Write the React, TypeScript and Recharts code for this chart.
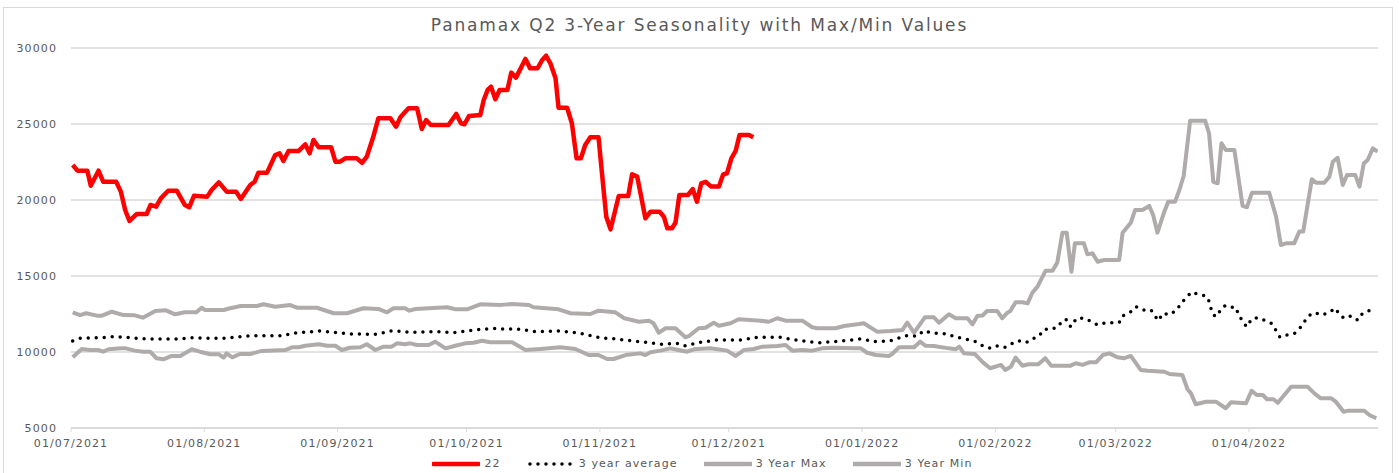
import { LineChart, Line, XAxis, YAxis, CartesianGrid, Legend } from "recharts"

// x = days since 01/07/2021, y = USD/day
const monthTicks = [0, 31, 62, 92, 123, 153, 184, 215, 243, 274]
const monthLabels = [
  "01/07/2021", "01/08/2021", "01/09/2021", "01/10/2021", "01/11/2021",
  "01/12/2021", "01/01/2022", "01/02/2022", "01/03/2022", "01/04/2022",
]
const yTicks = [5000, 10000, 15000, 20000, 25000, 30000]

const series22: [number, number][] = [
  [0.4, 22300], [1.5, 21930], [3.8, 21930], [4.6, 20940], [6.4, 21930], [7.5, 21200], [10.5, 21200],
  [11.6, 20550], [12.6, 19340], [13.6, 18620], [15.3, 19080], [17.6, 19080], [18.5, 19670], [19.8, 19560],
  [20.9, 20110], [22.6, 20610], [24.6, 20610], [26.5, 19670], [27.5, 19520], [28.6, 20280], [31.7, 20220],
  [32.7, 20660], [34.4, 21160], [36.2, 20550], [38.4, 20550], [39.5, 20070], [41.7, 20990], [42.7, 21200],
  [43.6, 21800], [45.6, 21800], [47.5, 22960], [48.5, 23070], [49.4, 22570], [50.6, 23220], [52.9, 23220],
  [54.5, 23660], [55.5, 23070], [56.4, 23950], [57.6, 23470], [60.5, 23470], [61.5, 22520], [62.6, 22520],
  [63.8, 22740], [66.5, 22740], [67.7, 22450], [68.8, 22850], [70.2, 24060], [71.5, 25380], [74.3, 25380],
  [75.6, 24820], [76.6, 25440], [78.5, 26030], [80.5, 26030], [81.6, 24670], [82.6, 25260], [83.7, 24930],
  [87.8, 24930], [89.6, 25660], [90.7, 25050], [91.5, 24980], [92.6, 25530], [95.2, 25590], [96.0, 26580],
  [96.9, 27240], [97.7, 27450], [98.7, 26630], [99.7, 27240], [101.5, 27240], [102.4, 28380], [103.5, 28050],
  [105.7, 29280], [106.8, 28660], [108.5, 28660], [109.6, 29210], [110.5, 29490], [111.5, 28990], [112.7, 28010],
  [113.4, 26070], [115.4, 26070], [116.5, 25050], [117.6, 22740], [118.6, 22740], [119.6, 23620], [120.8, 24130],
  [122.7, 24130], [123.5, 21760], [124.5, 18900], [125.5, 18070], [127.4, 20260], [129.6, 20260], [130.5, 21690],
  [131.7, 21540], [133.6, 18800], [134.8, 19230], [136.9, 19230], [137.9, 18900], [138.7, 18140], [139.8, 18140],
  [140.6, 18510], [141.5, 20330], [143.5, 20330], [144.6, 20720], [145.6, 19890], [146.6, 21100], [147.6, 21200],
  [148.9, 20880], [150.7, 20880], [151.7, 21690], [152.6, 21760], [153.6, 22740], [154.6, 23240], [155.5, 24280],
  [157.7, 24280], [158.7, 24130],
]

const seriesAvg: [number, number][] = [
  [0.4, 10720], [2.1, 10900], [6.8, 10940], [9.8, 11010], [13.7, 10940], [17.2, 10860], [22.3, 10860],
  [24.6, 10860], [28.5, 10940], [32.0, 10900], [35.8, 10900], [41.7, 11070], [49.0, 11070], [52.5, 11270],
  [58.0, 11380], [61.8, 11270], [65.7, 11180], [71.2, 11170], [74.7, 11400], [79.0, 11300], [86.0, 11340],
  [89.0, 11270], [93.7, 11450], [99.1, 11560], [100.6, 11510], [104.5, 11500], [108.0, 11340], [113.8, 11380],
  [117.3, 11270], [119.2, 11180], [123.1, 10940], [126.6, 10860], [132.4, 10680], [135.9, 10570], [137.5, 10510],
  [141.0, 10570], [142.9, 10400], [146.4, 10640], [150.3, 10790], [155.7, 10790], [159.6, 10970], [165.0, 10970],
  [168.5, 10790], [172.4, 10660], [174.3, 10610], [179.8, 10740], [183.7, 10860], [187.2, 10680], [190.6, 10740],
  [194.1, 11070], [196.9, 11050], [198.3, 11400], [200.0, 11270], [203.8, 11180], [205.4, 11010], [208.9, 10790],
  [210.4, 10680], [212.1, 10400], [213.9, 10240], [215.5, 10410], [217.2, 10310], [218.7, 10530], [220.4, 10740],
  [222.1, 10610], [223.6, 10860], [225.2, 11070], [226.3, 11490], [227.9, 11490], [229.6, 11660], [230.6, 12100],
  [231.6, 12120], [232.5, 11660], [233.9, 12220], [235.6, 12220], [237.4, 11990], [238.8, 11780], [240.7, 11930],
  [243.8, 11930], [244.6, 12370], [246.5, 12650], [247.7, 12980], [249.5, 12760], [251.2, 12760], [252.9, 12060],
  [254.0, 12550], [255.4, 12450], [257.2, 12760], [258.3, 13270], [259.5, 13570], [260.5, 13930], [262.2, 13800],
  [264.0, 13680], [264.9, 13240], [265.3, 12650], [266.2, 12320], [267.3, 12700], [268.3, 13030], [269.4, 12900],
  [270.7, 12980], [271.5, 12550], [272.5, 11990], [273.5, 11660], [274.6, 12170], [276.0, 12260], [277.5, 12100],
  [279.2, 11890], [280.2, 11450], [281.2, 10970], [282.9, 11120], [284.6, 11230], [285.9, 11600], [287.8, 12370],
  [289.1, 12590], [291.0, 12430], [292.7, 12610], [294.1, 12880], [295.1, 12430], [296.2, 12220], [297.7, 12370],
  [299.3, 12100], [300.4, 12550], [302.0, 12720],
]

const seriesMax: [number, number][] = [
  [0.4, 12610], [2.1, 12430], [3.5, 12550], [6.0, 12390], [7.2, 12390], [9.5, 12650], [12.2, 12430],
  [14.9, 12410], [16.7, 12260], [19.6, 12700], [22.1, 12740], [24.2, 12480], [26.5, 12610], [29.1, 12610],
  [30.4, 12910], [31.2, 12760], [35.5, 12760], [37.0, 12880], [39.5, 13030], [43.2, 13030], [44.8, 13140],
  [47.5, 12980], [51.0, 13090], [52.7, 12910], [57.2, 12910], [61.1, 12550], [64.2, 12550], [68.0, 12880],
  [71.5, 12830], [73.5, 12610], [75.0, 12880], [77.7, 12880], [78.7, 12720], [80.1, 12830], [83.2, 12880],
  [87.5, 12940], [89.4, 12810], [92.1, 12810], [95.2, 13140], [99.9, 13100], [102.6, 13160], [106.5, 13090],
  [107.6, 12940], [113.4, 12810], [116.2, 12550], [120.8, 12500], [122.7, 12720], [126.6, 12610], [128.7, 12220],
  [132.1, 11990], [134.4, 12060], [135.5, 11890], [136.7, 11270], [138.3, 11560], [140.6, 11560], [142.9, 10970],
  [143.7, 11040], [146.0, 11560], [147.6, 11600], [149.5, 11930], [150.7, 11730], [153.4, 11890], [155.3, 12150],
  [160.4, 12060], [162.3, 11990], [164.3, 12220], [166.2, 12060], [170.1, 12060], [172.4, 11630], [173.6, 11560],
  [177.8, 11560], [179.8, 11710], [183.3, 11840], [184.4, 11890], [187.5, 11340], [190.6, 11380], [193.4, 11450],
  [194.5, 11930], [196.1, 11270], [198.6, 12280], [200.7, 12280], [201.9, 11930], [204.2, 12480], [205.8, 12220],
  [208.5, 12220], [209.7, 11820], [210.8, 12370], [212.0, 12400], [213.1, 12700], [215.4, 12700], [216.6, 12220],
  [217.8, 12590], [218.5, 12700], [219.7, 13270], [221.3, 13270], [222.5, 13200], [223.6, 13900], [224.8, 14300],
  [226.7, 15350], [228.3, 15350], [229.4, 15880], [230.6, 17850], [231.6, 17850], [232.7, 15280], [233.5, 17150],
  [235.6, 17150], [236.4, 16430], [237.6, 16490], [238.8, 15940], [240.3, 16050], [243.8, 16050], [244.6, 17850],
  [246.5, 18510], [247.5, 19340], [249.2, 19340], [250.8, 19610], [251.7, 19010], [252.7, 17850], [254.3, 19230],
  [255.2, 19890], [256.8, 19890], [257.8, 20660], [258.8, 21580], [260.3, 25220], [263.8, 25220], [264.7, 24390],
  [265.7, 21200], [266.7, 21100], [267.6, 23730], [268.6, 23290], [270.6, 23290], [272.5, 19610], [273.5, 19520],
  [274.7, 20480], [278.7, 20480], [280.3, 18900], [281.4, 17040], [282.6, 17150], [284.5, 17150], [285.7, 17920],
  [286.6, 17920], [288.6, 21360], [289.6, 21140], [291.5, 21140], [292.7, 21540], [293.5, 22520], [294.6, 22780],
  [295.8, 20990], [296.8, 21650], [298.7, 21650], [299.7, 20880], [300.7, 22410], [301.6, 22630], [302.8, 23400],
  [303.9, 23180],
]

const seriesMin: [number, number][] = [
  [0.4, 9650], [2.5, 10200], [4.4, 10130], [6.3, 10130], [7.5, 10020], [8.7, 10180], [11.8, 10240],
  [12.7, 10240], [14.9, 10090], [16.8, 10020], [18.4, 10020], [19.9, 9590], [21.5, 9520], [23.4, 9740],
  [25.4, 9740], [28.1, 10180], [30.0, 10020], [32.4, 9850], [34.4, 9850], [35.5, 9630], [36.2, 9910],
  [37.5, 9650], [39.3, 9870], [41.7, 9870], [44.4, 10070], [49.8, 10130], [51.4, 10310], [52.9, 10310],
  [54.5, 10410], [57.6, 10510], [59.6, 10410], [61.5, 10410], [63.0, 10130], [64.9, 10280], [67.3, 10310],
  [68.8, 10510], [70.8, 10130], [72.7, 10350], [74.6, 10350], [75.8, 10570], [77.7, 10510], [78.9, 10570],
  [80.5, 10460], [83.2, 10460], [84.7, 10680], [87.1, 10240], [89.4, 10410], [91.7, 10570], [93.6, 10610],
  [95.6, 10740], [97.5, 10640], [102.6, 10640], [105.7, 10130], [109.2, 10200], [113.8, 10310], [117.3, 10200],
  [120.4, 9800], [122.7, 9800], [124.7, 9540], [126.2, 9540], [129.0, 9800], [132.4, 9910], [133.6, 9800],
  [134.8, 9980], [137.1, 10090], [139.4, 10240], [141.3, 10130], [143.3, 10020], [144.9, 10180], [148.7, 10240],
  [152.6, 10090], [154.6, 9740], [156.5, 10130], [158.8, 10200], [160.8, 10350], [164.3, 10400], [166.2, 10460],
  [167.8, 10090], [170.1, 10130], [172.4, 10090], [174.7, 10240], [177.4, 10280], [182.5, 10240], [183.7, 10240],
  [185.2, 9950], [187.2, 9800], [190.2, 9740], [191.0, 9870], [192.6, 10310], [196.1, 10310], [197.5, 10680],
  [198.8, 10410], [200.7, 10400], [204.2, 10240], [205.8, 10180], [206.6, 10350], [207.7, 9910], [210.2, 9870],
  [212.1, 9320], [213.8, 8930], [216.3, 9150], [217.3, 8820], [218.6, 9030], [219.7, 9630], [221.3, 9100],
  [222.7, 9190], [225.0, 9190], [226.6, 9590], [228.0, 9100], [232.5, 9100], [233.7, 9260], [235.3, 9150],
  [236.8, 9320], [238.4, 9320], [240.0, 9800], [241.5, 9910], [243.4, 9650], [245.0, 9590], [246.5, 9740],
  [248.8, 8820], [250.4, 8770], [254.3, 8700], [255.5, 8550], [258.5, 8490], [259.7, 7550], [260.5, 7280],
  [261.6, 6560], [264.0, 6730], [266.3, 6730], [268.6, 6300], [269.8, 6690], [273.3, 6630], [274.6, 7450],
  [275.8, 7170], [277.2, 7170], [278.2, 6890], [279.7, 6890], [280.7, 6660], [283.8, 7720], [287.6, 7720],
  [289.2, 7280], [290.7, 6950], [293.1, 6950], [294.2, 6730], [296.0, 6070], [297.1, 6140], [300.8, 6140],
  [302.0, 5860], [303.6, 5640],
]

const toRows = (pairs: [number, number][]) => pairs.map(([day, value]) => ({ day, value }))

const FONT = "'DejaVu Sans', sans-serif"
const TEXT = "#595959"
const GRID = "#D9D9D9"
const GREY = "#AFABAB"

const legendItems = [
  { name: "22", color: "#FF0000", dotted: false },
  { name: "3 year average", color: "#000000", dotted: true },
  { name: "3 Year Max", color: GREY, dotted: false },
  { name: "3 Year Min", color: GREY, dotted: false },
]

function LegendRow() {
  return (
    <div
      style={{
        display: "flex",
        justifyContent: "center",
        alignItems: "center",
        gap: 26,
        paddingLeft: 6,
        fontFamily: FONT,
        fontSize: 11,
        letterSpacing: 1.1,
        color: TEXT,
      }}
    >
      {legendItems.map((item) => (
        <div key={item.name} style={{ display: "flex", alignItems: "center" }}>
          <svg width={48} height={8}>
            <line
              x1={item.dotted ? 3 : 1}
              y1={4}
              x2={item.dotted ? 46 : 47}
              y2={4}
              stroke={item.color}
              strokeWidth={item.dotted ? 3.5 : 4.5}
              strokeLinecap="round"
              strokeDasharray={item.dotted ? "0 8" : undefined}
            />
          </svg>
          <span style={{ marginLeft: 4 }}>{item.name}</span>
        </div>
      ))}
    </div>
  )
}

export default function App() {
  return (
    <div
      style={{
        position: "absolute",
        left: 0,
        top: 0,
        width: 1399,
        height: 473,
        background: "#fff",
        overflow: "hidden",
      }}
    >
      <div
        style={{
          position: "absolute",
          left: 3,
          top: 7,
          width: 1390,
          height: 470,
          border: `1px solid ${GRID}`,
          boxSizing: "border-box",
        }}
      />
      <div
        style={{
          position: "absolute",
          left: 0,
          top: 14,
          width: 1399,
          textAlign: "center",
          fontFamily: FONT,
          fontSize: 17,
          lineHeight: "22px",
          letterSpacing: 1.85,
          color: TEXT,
        }}
      >
        Panamax Q2 3-Year Seasonality with Max/Min Values
      </div>
      <LineChart width={1399} height={473} margin={{ top: 48, right: 21, bottom: 0, left: 0 }}>
        <CartesianGrid vertical={false} stroke={GRID} strokeWidth={1.3} />
        <XAxis
          dataKey="day"
          type="number"
          domain={[0, 304]}
          ticks={monthTicks}
          interval={0}
          height={45}
          tickFormatter={(v: number) => monthLabels[monthTicks.indexOf(v)] ?? ""}
          axisLine={{ stroke: GRID, strokeWidth: 1.3 }}
          tickLine={{ stroke: GRID }}
          tickSize={4}
          tickMargin={7}
          tick={{ fill: TEXT, fontSize: 11, fontFamily: FONT, letterSpacing: 1.1 }}
          allowDataOverflow
        />
        <YAxis
          type="number"
          domain={[5000, 30000]}
          ticks={yTicks}
          width={71}
          axisLine={false}
          tickLine={false}
          tickMargin={8}
          tick={{ fill: TEXT, fontSize: 11, fontFamily: FONT, letterSpacing: 1.1 }}
        />
        <Line
          data={toRows(seriesMax)}
          dataKey="value"
          name="3 Year Max"
          stroke={GREY}
          strokeWidth={4}
          strokeLinejoin="round"
          dot={false}
          isAnimationActive={false}
        />
        <Line
          data={toRows(seriesMin)}
          dataKey="value"
          name="3 Year Min"
          stroke={GREY}
          strokeWidth={4}
          strokeLinejoin="round"
          dot={false}
          isAnimationActive={false}
        />
        <Line
          data={toRows(seriesAvg)}
          dataKey="value"
          name="3 year average"
          stroke="#000000"
          strokeWidth={3.5}
          strokeLinecap="round"
          strokeDasharray="0 8"
          dot={false}
          isAnimationActive={false}
        />
        <Line
          data={toRows(series22)}
          dataKey="value"
          name="22"
          stroke="#FF0000"
          strokeWidth={4.5}
          strokeLinejoin="round"
          dot={false}
          isAnimationActive={false}
        />
        <Legend
          layout="horizontal"
          verticalAlign="middle"
          align="center"
          wrapperStyle={{ top: 457, left: 0, width: 1399 }}
          content={() => <LegendRow />}
        />
      </LineChart>
    </div>
  )
}
